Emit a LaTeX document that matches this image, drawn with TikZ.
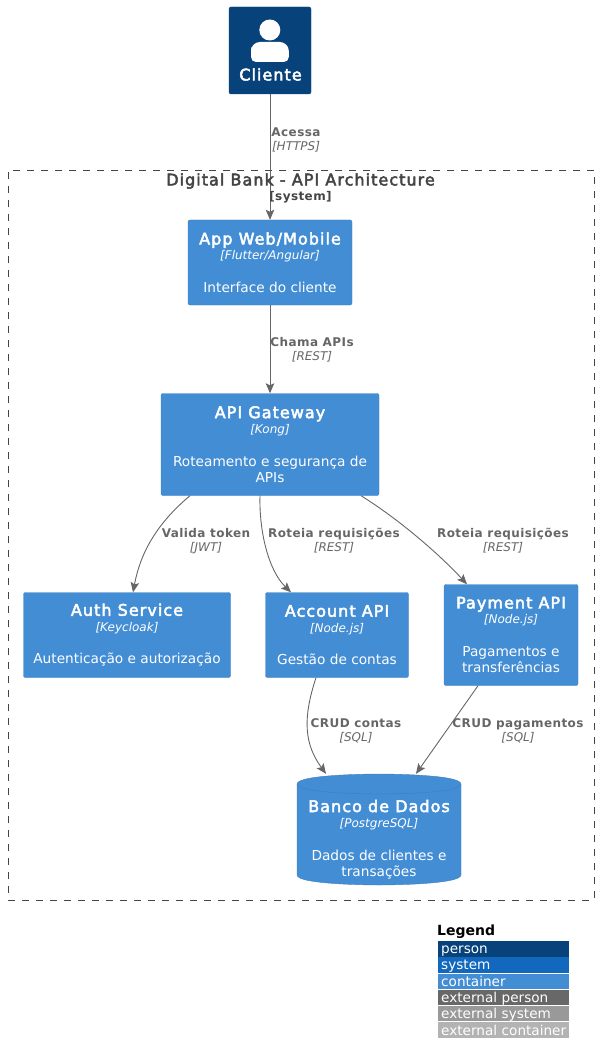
\documentclass[tikz,border=0pt]{standalone}
\usepackage{fontspec}
\setmainfont{DejaVu Sans}
\newfontfamily\headfont[FakeBold=3,LetterSpace=6.5]{DejaVu Sans}
\newfontfamily\relfont[LetterSpace=3.5]{DejaVu Sans}
\usetikzlibrary{positioning,arrows.meta}
\definecolor{personblue}{HTML}{08427B}
\definecolor{systemblue}{HTML}{1168BD}
\definecolor{contblue}{HTML}{438DD5}
\definecolor{contline}{HTML}{3C7FC0}
\definecolor{relgray}{HTML}{666666}
\definecolor{titlegray}{HTML}{444444}
\definecolor{extperson}{HTML}{686868}
\definecolor{extsystem}{HTML}{999999}
\definecolor{extcont}{HTML}{B3B3B3}
\newcommand{\boxtext}[3]{{\fontsize{16}{16}\selectfont\headfont #1}\\[-1pt]{\fontsize{12}{16}\selectfont\itshape [#2]}\\[16pt]#3}
\newcommand{\rellab}[2]{{\relfont\bfseries #1}\\{\itshape [#2]}}
\tikzset{
  cont/.style={draw=contline,fill=contblue,rounded corners=2pt,text=white,align=center,inner sep=0pt,font=\fontsize{13.7}{16.5}\selectfont},
  dbshape/.style={draw=contline,fill=contblue},
  rel/.style={draw=relgray,line width=0.9pt,-{Stealth[length=10pt,width=8.5pt,inset=2pt]}},
  rlab/.style={text=relgray,align=center,inner sep=0pt,font=\fontsize{12}{14}\selectfont},
  legrow/.style={minimum width=131pt,minimum height=15.3pt,inner sep=0pt,inner xsep=3pt,text width=125pt,text height=12.7pt,text depth=2.6pt,text=white,font=\fontsize{13.6}{15}\selectfont,anchor=north west}
}
\begin{document}
\begin{tikzpicture}[x=1pt,y=-1pt]
  \useasboundingbox (0,0) rectangle (599,1064);
  % boundary
  \node[draw=titlegray,line width=0.9pt,dash pattern=on 7pt off 7pt,minimum width=586pt,minimum height=730pt,inner sep=0pt] (bank) at (301,535) {};
  % person
  \node[draw=personblue,fill=personblue,rounded corners=2pt,minimum width=82pt,minimum height=87pt,inner sep=0pt] (cliente) at (270,50.5) {};
  \node[text=white,inner sep=0pt,font=\fontsize{16}{18}\selectfont\headfont] (clientelab) at (270.5,74.5) {Cliente};
  \node[circle,fill=white,minimum size=21pt,inner sep=0pt] (head) at (269.8,30) {};
  \fill[white,rounded corners=5pt] (251,62) -- (251,52) [rounded corners=9pt] -- (251,42) -- (288.8,42) [rounded corners=5pt] -- (288.8,62) -- cycle;
  % containers
  \node[cont,minimum width=164pt,minimum height=85pt] (app) at (270,262.5) {\boxtext{App Web/Mobile}{Flutter/Angular}{Interface do cliente}};
  \node[cont,minimum width=218pt,minimum height=102pt] (gateway) at (270,444.5) {\boxtext{API Gateway}{Kong}{Roteamento e segurança de\\APIs}};
  \node[cont,minimum width=207pt,minimum height=85pt] (auth) at (127,635) {\boxtext{Auth Service}{Keycloak}{Autenticação e autorização}};
  \node[cont,minimum width=143pt,minimum height=85pt] (account) at (337,635) {\boxtext{Account API}{Node.js}{Gestão de contas}};
  \node[cont,minimum width=134pt,minimum height=101pt] (payment) at (511,635) {\boxtext{Payment API}{Node.js}{Pagamentos e\\transferências}};
  % database
  \node[minimum width=164pt,minimum height=111pt,inner sep=0pt] (db) at (379,829.5) {};
  \path[dbshape] (297,784) .. controls (297,774) and (379,774) .. (379,774) .. controls (379,774) and (461,774) .. (461,784) -- (461,875) .. controls (461,885) and (379,885) .. (379,885) .. controls (379,885) and (297,885) .. (297,875) -- cycle;
  \draw[contline] (297,784) .. controls (297,794) and (379,794) .. (379,794) .. controls (379,794) and (461,794) .. (461,784);
  \node[cont,draw=none,fill=none] (dblab) at (379,839.5) {\boxtext{Banco de Dados}{PostgreSQL}{Dados de clientes e\\transações}};
  % relations
  \draw[rel] (cliente) -- (app);
  \draw[rel] (app) -- (gateway);
  \draw[rel] ([xshift=-80pt]gateway.south) .. controls (155,525) and (140,555) .. ([xshift=6pt]auth.north);
  \draw[rel] ([xshift=-10pt]gateway.south) .. controls (259,530) and (268,570) .. ([xshift=-46pt]account.north);
  \draw[rel] ([xshift=91pt]gateway.south) .. controls (400,520) and (440,555) .. ([xshift=-44pt]payment.north);
  \draw[rel] ([xshift=-21pt]account.south) .. controls (302,720) and (305,745) .. ([xshift=-53pt]db.north);
  \draw[rel] ([xshift=-33pt]payment.south) -- ([xshift=37pt]db.north);
  % labels
  \node[rlab] (lab1) at (296,139.5) {\rellab{Acessa}{HTTPS}};
  \node[rlab] (lab2) at (312,349.5) {\rellab{Chama APIs}{REST}};
  \node[rlab] (lab3) at (206,541) {\rellab{Valida token}{JWT}};
  \node[rlab] (lab4) at (334,541) {\rellab{Roteia requisições}{REST}};
  \node[rlab] (lab5) at (503,541) {\rellab{Roteia requisições}{REST}};
  \node[rlab] (lab6) at (356,730.5) {\rellab{CRUD contas}{SQL}};
  \node[rlab] (lab7) at (518,730.5) {\rellab{CRUD pagamentos}{SQL}};
  % boundary title
  \node[text=titlegray,inner sep=0pt,font=\fontsize{16}{18}\selectfont\headfont] (banktitle) at (300.5,181) {Digital Bank - API Architecture};
  \node[text=titlegray,inner sep=0pt,font=\fontsize{12}{14}\selectfont\relfont\bfseries] (banktag) at (300.5,197) {[system]};
  % legend
  \node[inner sep=0pt,anchor=west,font=\fontsize{14}{16}\selectfont\bfseries] (legtitle) at (437,932) {Legend};
  \foreach \i/\c/\l/\y in {1/personblue/person/941,2/systemblue/system/957,3/contblue/container/973.3,4/extperson/external person/989.6,5/extsystem/external system/1005.9,6/extcont/external container/1022.2} {
    \node[legrow,fill=\c] (leg\i) at (438,\y) {\l};
  }
\end{tikzpicture}
\end{document}
